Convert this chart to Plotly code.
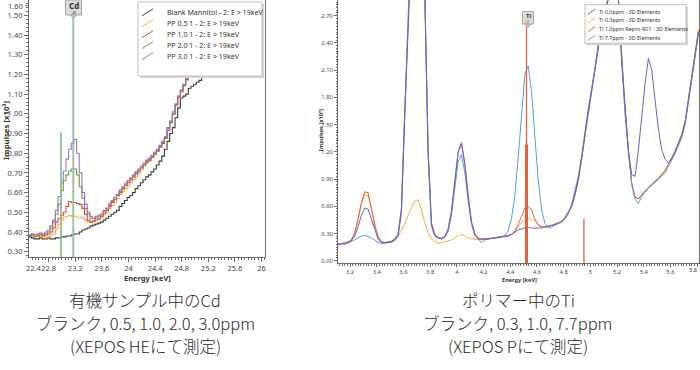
import plotly.graph_objects as go

# ---------------- data: left chart (Cd in organic sample) ----------------
E_CD = [22.50, 22.54, 22.58, 22.62, 22.66, 22.70, 22.74, 22.78, 22.82, 22.86,
        22.90, 22.94, 22.98, 23.02, 23.06, 23.10, 23.14, 23.18, 23.22, 23.26,
        23.30, 23.34, 23.38, 23.42, 23.46, 23.50, 23.54, 23.58, 23.62, 23.66,
        23.70, 23.74, 23.78, 23.82, 23.86, 23.90, 23.94, 23.98, 24.02, 24.06,
        24.10, 24.14, 24.18, 24.22, 24.26, 24.30, 24.34, 24.38, 24.42, 24.46,
        24.50, 24.54, 24.58, 24.62, 24.66, 24.70, 24.74, 24.78, 24.82, 24.86,
        24.90, 24.94, 24.98, 25.02, 25.06, 25.10]

CD_BLANK = [0.375, 0.37, 0.365, 0.365, 0.37, 0.365, 0.365, 0.37, 0.365, 0.365,
            0.37, 0.37, 0.375, 0.375, 0.38, 0.38, 0.385, 0.39, 0.39, 0.40,
            0.41, 0.415, 0.42, 0.43, 0.435, 0.44, 0.445, 0.45, 0.46, 0.47,
            0.48, 0.49, 0.50, 0.51, 0.53, 0.545, 0.56, 0.575, 0.585, 0.60,
            0.62, 0.635, 0.65, 0.665, 0.68, 0.69, 0.705, 0.72, 0.74, 0.76,
            0.785, 0.82, 0.86, 0.90, 0.93, 0.98, 1.03, 1.08, 1.09, 1.10,
            1.13, 1.14, 1.15, 1.16, 1.17, 1.25]
CD_PP05 = [0.385, 0.38, 0.375, 0.38, 0.375, 0.38, 0.37, 0.375, 0.385, 0.39,
           0.41, 0.44, 0.46, 0.475, 0.48, 0.485, 0.48, 0.48, 0.475, 0.475,
           0.47, 0.46, 0.45, 0.45, 0.455, 0.46, 0.465, 0.475, 0.49, 0.50,
           0.52, 0.535, 0.55, 0.57, 0.59, 0.605, 0.62, 0.635, 0.65, 0.665,
           0.68, 0.70, 0.715, 0.735, 0.75, 0.76, 0.78, 0.795, 0.81, 0.83,
           0.85, 0.875, 0.915, 0.955, 1.00, 1.04, 1.08, 1.11, 1.14, 1.17,
           1.21, 1.25, 1.29, 1.33, 1.37, 1.41]
CD_PP10 = [0.38, 0.385, 0.38, 0.38, 0.385, 0.38, 0.385, 0.39, 0.40, 0.42,
           0.45, 0.47, 0.485, 0.50, 0.53, 0.555, 0.55, 0.55, 0.545, 0.54,
           0.52, 0.49, 0.46, 0.45, 0.455, 0.465, 0.47, 0.48, 0.495, 0.51,
           0.53, 0.55, 0.565, 0.585, 0.60, 0.62, 0.635, 0.65, 0.665, 0.68,
           0.695, 0.71, 0.725, 0.74, 0.755, 0.765, 0.78, 0.795, 0.81, 0.83,
           0.85, 0.875, 0.915, 0.955, 1.00, 1.045, 1.085, 1.115, 1.145, 1.175,
           1.215, 1.255, 1.295, 1.335, 1.375, 1.415]
CD_PP20 = [0.385, 0.39, 0.38, 0.385, 0.39, 0.385, 0.39, 0.40, 0.42, 0.45,
           0.49, 0.54, 0.61, 0.66, 0.69, 0.71, 0.72, 0.72, 0.69, 0.63,
           0.57, 0.52, 0.49, 0.47, 0.47, 0.475, 0.485, 0.49, 0.505, 0.52,
           0.535, 0.555, 0.575, 0.585, 0.605, 0.625, 0.64, 0.66, 0.67, 0.685,
           0.705, 0.715, 0.73, 0.745, 0.765, 0.77, 0.785, 0.805, 0.815, 0.835,
           0.855, 0.88, 0.93, 0.96, 1.00, 1.05, 1.09, 1.12, 1.15, 1.18,
           1.22, 1.26, 1.30, 1.34, 1.38, 1.42]
CD_PP30 = [0.385, 0.39, 0.385, 0.39, 0.395, 0.39, 0.40, 0.41, 0.43, 0.46,
           0.51, 0.58, 0.65, 0.71, 0.77, 0.82, 0.85, 0.87, 0.80, 0.70,
           0.60, 0.54, 0.50, 0.48, 0.47, 0.48, 0.48, 0.49, 0.51, 0.52,
           0.545, 0.56, 0.575, 0.59, 0.615, 0.63, 0.645, 0.66, 0.675, 0.69,
           0.70, 0.72, 0.735, 0.75, 0.76, 0.775, 0.79, 0.80, 0.82, 0.84,
           0.86, 0.885, 0.925, 0.965, 1.01, 1.05, 1.09, 1.12, 1.15, 1.18,
           1.22, 1.26, 1.30, 1.34, 1.38, 1.42]

CD_NAMES = ["Blank Mannitol - 2: E > 19keV", "PP 0.5 1 - 2: E > 19keV",
            "PP 1.0 1 - 2: E > 19keV", "PP 2.0 1 - 2: E > 19keV",
            "PP 3.0 1 - 2: E > 19keV"]
CD_COLORS = ["#3c3c3c", "#ffad3a", "#e6403a", "#6d9d3a", "#9a70d8"]
CD_SERIES = [CD_BLANK, CD_PP05, CD_PP10, CD_PP20, CD_PP30]
CD_LINES = [23.17, 22.985]          # Cd K-alpha1 / K-alpha2 marker energies
CD_LINE_TOPS = [1.49, 0.905]
CD_XTICKS = [22.8, 23.2, 23.6, 24.0, 24.4, 24.8, 25.2, 25.6, 26.0]
CD_XTICKTEXT = ["22.8", "23.2", "23.6", "24", "24.4", "24.8", "25.2", "25.6", "26"]
CD_YTICKS = [0.30, 0.40, 0.50, 0.60, 0.70, 0.80, 0.90, 1.00, 1.10, 1.20, 1.30, 1.40, 1.50]

# ---------------- data: right chart (Ti in polymer) ----------------
E_TI = [3.110, 3.135, 3.160, 3.185, 3.210, 3.235, 3.260, 3.285, 3.310, 3.335,
        3.360, 3.385, 3.410, 3.435, 3.460, 3.485, 3.510, 3.535, 3.560, 3.585,
        3.610, 3.635, 3.660, 3.685, 3.710, 3.735, 3.760, 3.785, 3.810, 3.835,
        3.860, 3.885, 3.910, 3.935, 3.960, 3.985, 4.010, 4.035, 4.060, 4.085,
        4.110, 4.135, 4.160, 4.185, 4.210, 4.235, 4.260, 4.285, 4.310, 4.335,
        4.360, 4.385, 4.410, 4.435, 4.460, 4.485, 4.510, 4.535, 4.560, 4.585,
        4.610, 4.635, 4.660, 4.685, 4.710, 4.735, 4.760, 4.785, 4.810, 4.835,
        4.860, 4.885, 4.910, 4.935, 4.960, 4.985, 5.010, 5.035, 5.060, 5.085,
        5.110, 5.135, 5.160, 5.185, 5.210, 5.235, 5.260, 5.285, 5.310, 5.335,
        5.360, 5.385, 5.410, 5.435, 5.460, 5.485, 5.510, 5.535, 5.560, 5.585,
        5.610, 5.635, 5.660, 5.685, 5.710, 5.735, 5.760, 5.785, 5.810]

TI_00 = [0.18, 0.19, 0.18, 0.20, 0.22, 0.27, 0.37, 0.50, 0.58, 0.57,
         0.46, 0.33, 0.24, 0.20, 0.20, 0.20, 0.21, 0.23, 0.28, 0.55,
         1.60, 2.80, 3.80, 4.40, 4.30, 3.60, 2.95, 1.20, 0.40, 0.28,
         0.25, 0.24, 0.26, 0.34, 0.54, 0.87, 1.19, 1.29, 1.06, 0.71,
         0.42, 0.29, 0.245, 0.235, 0.235, 0.24, 0.245, 0.25, 0.255, 0.26,
         0.265, 0.27, 0.29, 0.32, 0.34, 0.35, 0.36, 0.37, 0.36, 0.36,
         0.355, 0.36, 0.37, 0.38, 0.385, 0.40, 0.41, 0.43, 0.47, 0.53,
         0.60, 0.74, 0.90, 1.13, 1.40, 1.65, 1.87, 2.10, 2.38, 2.58,
         2.75, 2.88, 3.00, 3.00, 2.88, 2.20, 1.65, 1.22, 0.95, 0.93,
         1.22, 1.60, 1.95, 2.23, 2.10, 1.77, 1.45, 1.22, 1.12, 1.08,
         1.13, 1.20, 1.29, 1.38, 1.52, 1.78, 2.04, 2.30, 2.52]
TI_03 = [0.17, 0.19, 0.20, 0.19, 0.22, 0.30, 0.44, 0.62, 0.73, 0.72,
         0.56, 0.39, 0.26, 0.21, 0.20, 0.20, 0.22, 0.24, 0.27, 0.33,
         0.40, 0.50, 0.58, 0.66, 0.67, 0.56, 0.42, 0.31, 0.24, 0.21,
         0.19, 0.20, 0.21, 0.22, 0.23, 0.25, 0.28, 0.29, 0.27, 0.25,
         0.24, 0.235, 0.23, 0.23, 0.235, 0.24, 0.245, 0.25, 0.26, 0.265,
         0.27, 0.28, 0.29, 0.32, 0.37, 0.42, 0.45, 0.46, 0.455, 0.44,
         0.40, 0.38, 0.375, 0.38, 0.39, 0.41, 0.42, 0.44, 0.48, 0.54,
         0.61, 0.73, 0.88, 1.12, 1.38, 1.64, 1.86, 2.12, 2.37, 2.59,
         2.76, 2.89, 3.00, 3.00, 2.89, 2.22, 1.66, 1.23, 0.86, 0.71,
         0.68, 0.72, 0.77, 0.81, 0.84, 0.87, 0.90, 0.94, 0.99, 1.07,
         1.14, 1.21, 1.30, 1.40, 1.54, 1.80, 2.07, 2.33, 2.55]
TI_10 = [0.19, 0.18, 0.20, 0.21, 0.23, 0.31, 0.46, 0.64, 0.76, 0.75,
         0.58, 0.40, 0.27, 0.21, 0.20, 0.21, 0.21, 0.24, 0.30, 0.58,
         1.68, 2.85, 3.85, 4.45, 4.35, 3.65, 3.00, 1.25, 0.42, 0.29,
         0.26, 0.25, 0.27, 0.35, 0.55, 0.88, 1.21, 1.30, 1.08, 0.73,
         0.43, 0.30, 0.25, 0.24, 0.24, 0.245, 0.25, 0.255, 0.26, 0.265,
         0.27, 0.28, 0.29, 0.33, 0.40, 0.50, 0.58, 0.60, 0.56, 0.46,
         0.39, 0.37, 0.37, 0.38, 0.385, 0.40, 0.415, 0.43, 0.47, 0.53,
         0.59, 0.72, 0.89, 1.12, 1.39, 1.66, 1.88, 2.11, 2.39, 2.60,
         2.77, 2.90, 3.02, 3.01, 2.90, 2.21, 1.66, 1.22, 0.85, 0.70,
         0.68, 0.73, 0.77, 0.80, 0.84, 0.88, 0.91, 0.95, 1.00, 1.06,
         1.13, 1.20, 1.29, 1.39, 1.53, 1.79, 2.05, 2.31, 2.53]
TI_77 = [0.18, 0.19, 0.19, 0.20, 0.21, 0.23, 0.25, 0.27, 0.28, 0.27,
         0.25, 0.22, 0.20, 0.19, 0.19, 0.20, 0.20, 0.22, 0.27, 0.52,
         1.55, 2.78, 3.75, 4.35, 4.25, 3.55, 2.90, 1.15, 0.38, 0.27,
         0.25, 0.24, 0.26, 0.32, 0.50, 0.80, 1.09, 1.17, 0.97, 0.66,
         0.40, 0.28, 0.24, 0.20, 0.23, 0.24, 0.245, 0.25, 0.255, 0.26,
         0.28, 0.33, 0.47, 0.72, 1.14, 1.65, 2.06, 2.15, 1.86, 1.36,
         0.89, 0.56, 0.41, 0.36, 0.37, 0.39, 0.41, 0.43, 0.46, 0.52,
         0.62, 0.76, 0.93, 1.16, 1.43, 1.68, 1.90, 2.13, 2.40, 2.61,
         2.78, 2.91, 3.02, 3.02, 2.90, 2.18, 1.62, 1.20, 0.84, 0.68,
         0.63, 0.71, 0.76, 0.80, 0.83, 0.86, 0.89, 0.93, 0.97, 1.04,
         1.11, 1.18, 1.27, 1.36, 1.50, 1.75, 2.02, 2.28, 2.50]

TI_NAMES = ["Ti 0.0ppm - 3D Elements", "Ti 0.3ppm - 3D Elements",
            "Ti 1.0ppm Repro R01 - 3D Elements", "Ti 7.7ppm - 3D Elements"]
TI_COLORS = ["#6b5fc6", "#f8a83c", "#e4604e", "#4f9ce6"]
TI_SERIES = [TI_00, TI_03, TI_10, TI_77]
TI_DRAW_ORDER = [1, 2, 3, 0]
TI_LINES = [4.522, 4.522, 4.952]     # Ti K-alpha (thin + thick) / K-beta markers
TI_LINE_TOPS = [2.58, 1.28, 0.46]
TI_LINE_WIDTHS = [1.3, 3.0, 1.3]
TI_XTICKS = [3.2, 3.4, 3.6, 3.8, 4.0, 4.2, 4.4, 4.6, 4.8, 5.0, 5.2, 5.4, 5.6, 5.8]
TI_XTICKTEXT = ["3.2", "3.4", "3.6", "3.8", "4", "4.2", "4.4", "4.6", "4.8",
                "5", "5.2", "5.4", "5.6", ""]
TI_LAST_XLABEL = "5.8"   # drawn clamped to the right edge, as in the original
TI_YTICKS = [0.0, 0.3, 0.6, 0.9, 1.2, 1.5, 1.8, 2.1, 2.4, 2.7]

CAPTION_LEFT = ["有機サンプル中のCd", "ブランク, 0.5, 1.0, 2.0, 3.0ppm", "(XEPOS HEにて測定)"]
CAPTION_RIGHT = ["ポリマー中のTi", "ブランク, 0.3, 1.0, 7.7ppm", "(XEPOS Pにて測定)"]

# ---------------- layout helpers (pixel -> paper) ----------------
W, H = 700, 370
def PX(x):
    return x / W
def PY(y):
    return 1 - y / H

TICKFONT = dict(family="Noto Sans", size=7.5, color="#444")
TICKFONT_S = dict(family="Noto Sans", size=5.8, color="#444")
AXCOL = "#6a6a6a"

fig = go.Figure()

for name, color, vals in zip(CD_NAMES, CD_COLORS, CD_SERIES):
    fig.add_trace(go.Scatter(x=E_CD, y=vals, name=name, mode="lines",
                             line=dict(color=color, width=1.1, shape="hv"),
                             xaxis="x", yaxis="y", showlegend=False))

for k in TI_DRAW_ORDER:
    fig.add_trace(go.Scatter(x=E_TI, y=TI_SERIES[k], name=TI_NAMES[k], mode="lines",
                             line=dict(color=TI_COLORS[k], width=1.0),
                             xaxis="x2", yaxis="y2", showlegend=False))

shapes = []
annotations = []

# element marker lines
for e, top in zip(CD_LINES, CD_LINE_TOPS):
    shapes.append(dict(type="line", xref="x", yref="y", x0=e, x1=e, y0=0.273, y1=top,
                       line=dict(color="#8fbf95", width=2), opacity=0.9))
for e, top, w in zip(TI_LINES, TI_LINE_TOPS, TI_LINE_WIDTHS):
    shapes.append(dict(type="line", xref="x2", yref="y2", x0=e, x1=e, y0=-0.025, y1=top,
                       line=dict(color="#e2603e", width=w)))

# element label boxes
def element_label(cx, top, w, h, sym, z, fs):
    shapes.append(dict(type="rect", xref="paper", yref="paper",
                       x0=PX(cx - w / 2), x1=PX(cx + w / 2), y0=PY(top + h), y1=PY(top),
                       fillcolor="#dadada", line=dict(color="#a8a8a8", width=1)))
    shapes.append(dict(type="path", xref="paper", yref="paper",
                       path=f"M {PX(cx-3)} {PY(top+h)} L {PX(cx+3)} {PY(top+h)} L {PX(cx)} {PY(top+h+3.5)} Z",
                       fillcolor="#c4c4c4", line=dict(color="#a8a8a8", width=1)))
    annotations.append(dict(xref="paper", yref="paper", x=PX(cx), y=PY(top + h * 0.38),
                            text=f"<b>{sym}</b>", showarrow=False, xanchor="center", yanchor="middle",
                            font=dict(family="Noto Sans", size=fs, color="#333")))
    annotations.append(dict(xref="paper", yref="paper", x=PX(cx), y=PY(top + h * 0.82),
                            text=z, showarrow=False, xanchor="center", yanchor="middle",
                            font=dict(family="Noto Sans", size=fs * 0.45, color="#555")))

element_label(73.5, 0, 16, 15, "Cd", "48", 8)
element_label(528, 11.5, 11, 12.5, "Ti", "22", 6)

# manual legends
def legend_box(x0, x1, y0, y1, names, colors, ys, icon_x0, icon_x1, text_x, fs, dy):
    shapes.append(dict(type="rect", xref="paper", yref="paper",
                       x0=PX(x0 + 2), x1=PX(x1 + 2), y0=PY(y1 + 2), y1=PY(y0 + 2),
                       fillcolor="#d4d4d4", line=dict(width=0)))
    shapes.append(dict(type="rect", xref="paper", yref="paper",
                       x0=PX(x0), x1=PX(x1), y0=PY(y1), y1=PY(y0),
                       fillcolor="white", line=dict(color="#bdbdbd", width=1)))
    for name, color, yc in zip(names, colors, ys):
        shapes.append(dict(type="line", xref="paper", yref="paper",
                           x0=PX(icon_x0), x1=PX(icon_x1), y0=PY(yc + dy), y1=PY(yc - dy),
                           line=dict(color=color, width=1)))
        annotations.append(dict(xref="paper", yref="paper", x=PX(text_x), y=PY(yc),
                                text=name, showarrow=False, xanchor="left", yanchor="middle",
                                font=dict(family="Noto Sans", size=fs, color="#333")))

legend_box(138, 262, 2, 76, CD_NAMES, CD_COLORS, [12.3, 23.3, 34.2, 45.1, 56.0],
           142, 153, 165, 7.1, 3.5)
legend_box(585, 686, 4.7, 43.3, TI_NAMES, TI_COLORS, [11.7, 20.4, 29.1, 37.8],
           588, 595, 597, 5.4, 2.6)

# clipped tick labels (as rendered in the original software)
annotations.append(dict(xref="paper", yref="paper", x=PX(25), y=PY(5.7), text="1.60",
                        showarrow=False, xanchor="right", yanchor="middle", font=TICKFONT))
shapes.append(dict(type="line", xref="paper", yref="paper", x0=PX(25), x1=PX(29),
                   y0=PY(5.7), y1=PY(5.7), line=dict(color=AXCOL, width=1)))
annotations.append(dict(xref="paper", yref="paper", x=PX(44), y=PY(267.5), text="22.4",
                        showarrow=False, xanchor="right", yanchor="middle", font=TICKFONT))
annotations.append(dict(xref="paper", yref="paper", x=PX(699.5), y=PY(270), text=TI_LAST_XLABEL,
                        showarrow=False, xanchor="right", yanchor="middle", font=TICKFONT_S))

# axis titles
annotations += [
    dict(xref="paper", yref="paper", x=PX(147), y=PY(278), text="<b>Energy [keV]</b>",
         showarrow=False, xanchor="center", yanchor="middle",
         font=dict(family="Noto Sans", size=7.5, color="#333")),
    dict(xref="paper", yref="paper", x=PX(6), y=PY(131), text="<b>Impulses [x10³]</b>",
         showarrow=False, textangle=-90, xanchor="center", yanchor="middle",
         font=dict(family="Noto Sans", size=7.8, color="#333")),
    dict(xref="paper", yref="paper", x=PX(519), y=PY(279.5), text="<b>Energy [keV]</b>",
         showarrow=False, xanchor="center", yanchor="middle",
         font=dict(family="Noto Sans", size=5.6, color="#333")),
    dict(xref="paper", yref="paper", x=PX(320.5), y=PY(131), text="<b>Impulses [x10³]</b>",
         showarrow=False, textangle=-90, xanchor="center", yanchor="middle",
         font=dict(family="Noto Sans", size=5.6, color="#333")),
]

# captions
for lines, cx in ((CAPTION_LEFT, 145), (CAPTION_RIGHT, 518)):
    for txt, cy in zip(lines, (300, 323, 345.5)):
        annotations.append(dict(xref="paper", yref="paper", x=PX(cx), y=PY(cy), text=txt,
                                showarrow=False, xanchor="center", yanchor="middle",
                                font=dict(family="Noto Sans CJK JP", size=16.5, color="#2a2a2a",
                                          weight=300)))

common_axis = dict(showline=True, mirror=True, linecolor=AXCOL, linewidth=1, showgrid=False,
                   zeroline=False, ticks="outside", tickcolor=AXCOL, automargin=False)

fig.update_layout(
    template="none",
    width=W, height=H,
    margin=dict(l=0, r=0, t=0, b=0),
    paper_bgcolor="white", plot_bgcolor="white",
    showlegend=False,
    hovermode=False,
    xaxis=dict(common_axis, domain=[PX(29), PX(265)], range=[22.504, 26.053], anchor="y",
               tickmode="array", tickvals=CD_XTICKS, ticktext=CD_XTICKTEXT, ticklen=4,
               tickfont=TICKFONT,
               minor=dict(ticks="outside", ticklen=2, tickcolor=AXCOL, tick0=22.4, dtick=0.05)),
    yaxis=dict(common_axis, domain=[PY(257), 1.0], range=[0.273, 1.578], anchor="x",
               tickmode="array", tickvals=CD_YTICKS, ticklen=4, tickformat=".2f",
               tickfont=TICKFONT,
               minor=dict(ticks="outside", ticklen=2, tickcolor=AXCOL, tick0=0.3, dtick=0.02)),
    xaxis2=dict(common_axis, domain=[PX(338), PX(699)], range=[3.11, 5.814], anchor="y2",
                tickmode="array", tickvals=TI_XTICKS, ticktext=TI_XTICKTEXT, ticklen=3,
                tickfont=TICKFONT_S,
                minor=dict(ticks="outside", ticklen=1.5, tickcolor=AXCOL, tick0=3.2, dtick=0.02)),
    yaxis2=dict(common_axis, domain=[PY(263), 1.0], range=[-0.0253, 2.873], anchor="x2",
                tickmode="array", tickvals=TI_YTICKS, ticklen=3, tickformat=".2f",
                tickfont=TICKFONT_S,
                minor=dict(ticks="outside", ticklen=1.5, tickcolor=AXCOL, tick0=0.0, dtick=0.03)),
    shapes=shapes,
    annotations=annotations,
)

# remove the default 8px page margin so the 700x370 figure fills the window exactly
fig.write_html("out.html",
               config={"displayModeBar": False},
               post_script="document.body.style.margin='0px';document.body.style.overflow='hidden';")
